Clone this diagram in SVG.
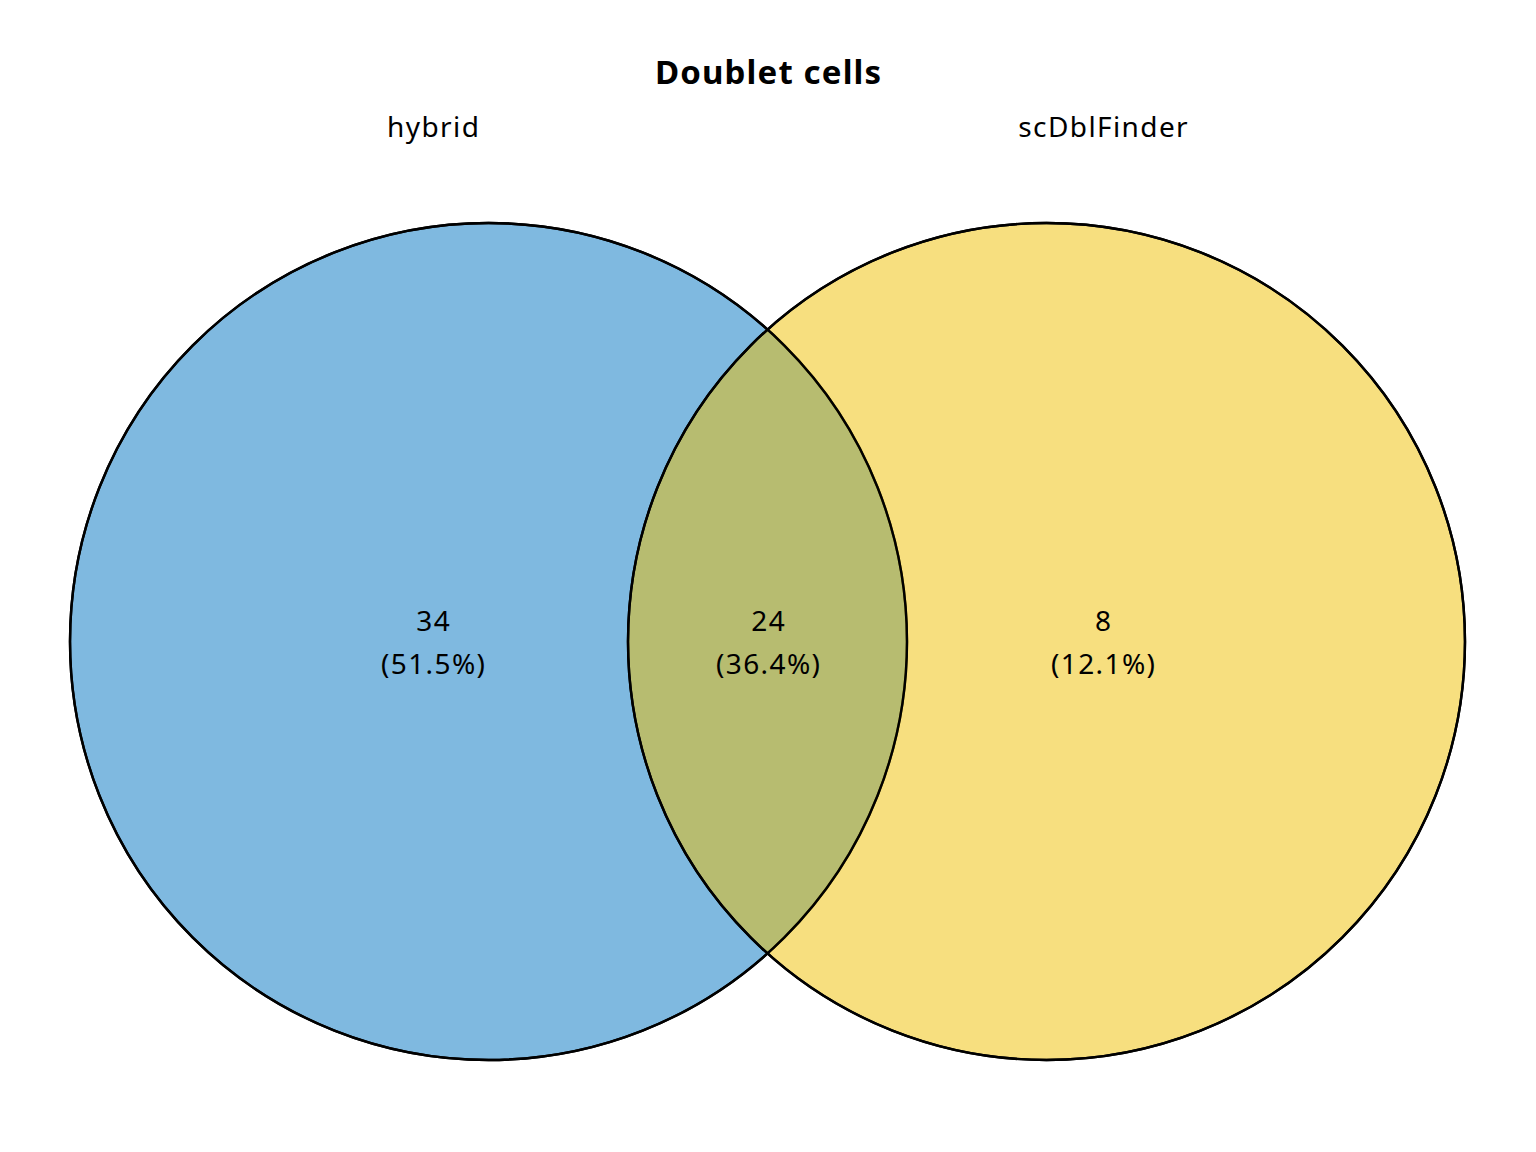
<svg xmlns="http://www.w3.org/2000/svg" width="1536" height="1152" viewBox="0 0 1536 1152">
<style>
.set{stroke:#000;stroke-width:2.4;fill-opacity:0.5}
.t{font-family:"Noto Sans","Open Sans",sans-serif;font-size:28px;letter-spacing:1.4px;fill:#000;text-anchor:middle}
.title{font-family:"Noto Sans","Open Sans",sans-serif;font-size:33px;letter-spacing:1.15px;font-weight:bold;fill:#000;text-anchor:middle}
</style>
<rect width="1536" height="1152" fill="#fff"/>
<g id="sets">
<g id="set-hybrid"><circle class="set" cx="488.5" cy="641.5" r="418.5" fill="#0073C2"/></g>
<g id="set-scDblFinder"><circle class="set" cx="1046.5" cy="641.5" r="418.5" fill="#EFC000"/></g>
</g>
<g id="outlines" fill="none" stroke="#000" stroke-width="2.4">
<circle cx="488.5" cy="641.5" r="418.5"/>
<circle cx="1046.5" cy="641.5" r="418.5"/>
</g>
<text class="title" x="768.6" y="84">Doublet cells</text>
<text class="t" x="433.7" y="137">hybrid</text>
<text class="t" x="1103.7" y="137">scDblFinder</text>
<g id="region-hybrid-only"><text class="t" x="433.7" y="631">34</text><text class="t" x="433.7" y="674">(51.5%)</text></g>
<g id="region-both"><text class="t" x="768.7" y="631">24</text><text class="t" x="768.7" y="674">(36.4%)</text></g>
<g id="region-scDblFinder-only"><text class="t" x="1103.7" y="631">8</text><text class="t" x="1103.7" y="674">(12.1%)</text></g>
</svg>
